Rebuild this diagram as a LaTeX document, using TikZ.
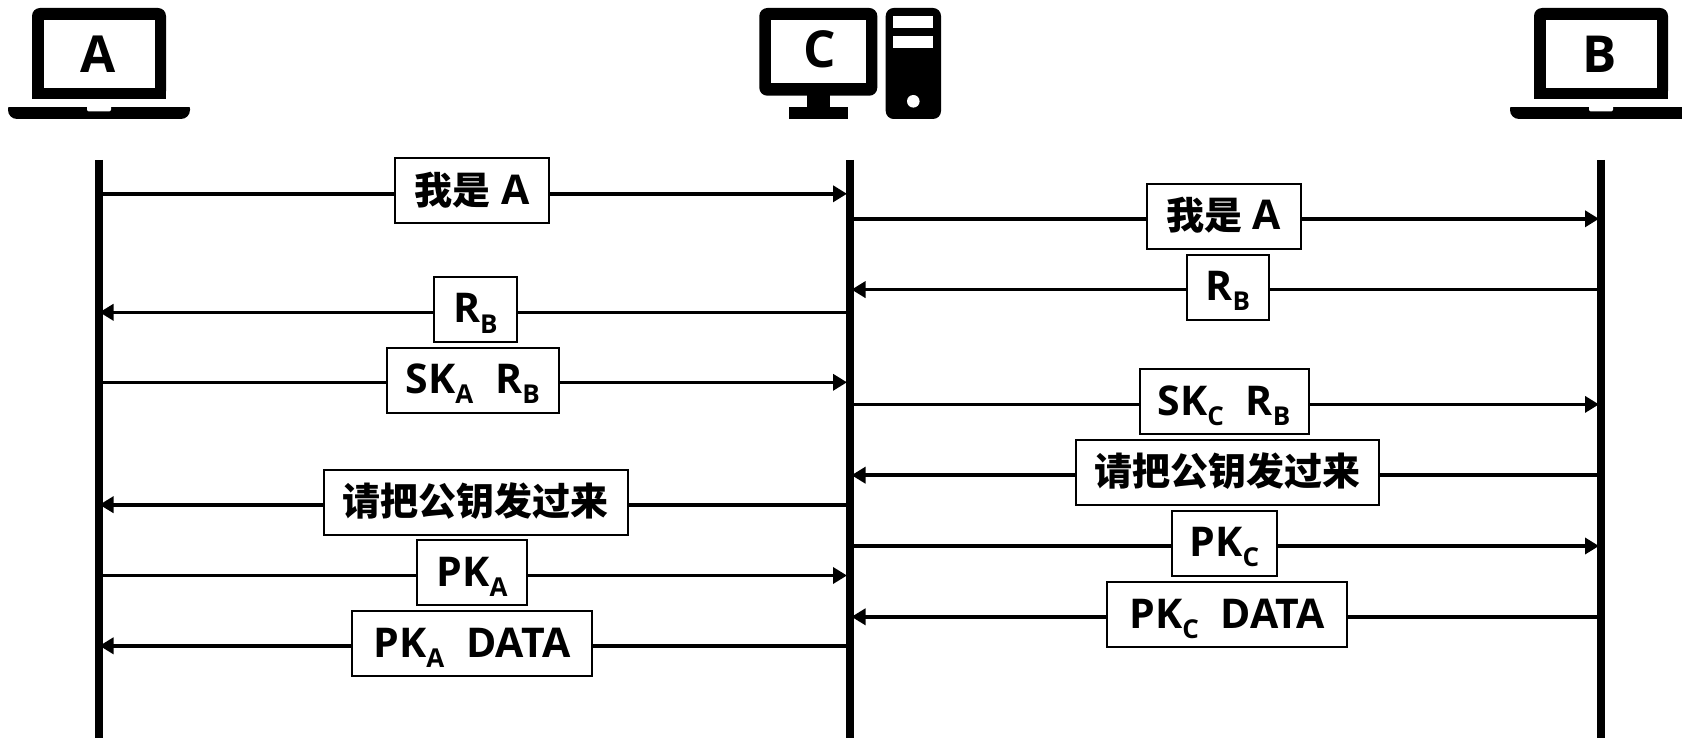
\documentclass[tikz,border=0pt]{standalone}
\usepackage{fontspec}
\setmainfont{Open Sans}
\newfontfamily\cjkraw{Noto Sans CJK SC}
\newcommand\cjk{\fontsize{38}{38}\selectfont\cjkraw\bfseries}
\usetikzlibrary{arrows.meta}
\newcommand\sbs[1]{\raisebox{-10pt}{\fontsize{26}{26}\selectfont #1}}
\newcommand\gapp{\hspace{22pt}}
\tikzset{
  msgbox/.style={draw=black,fill=white,line width=2pt,inner sep=0pt,outer sep=0pt,
    text height=46pt,text depth=19pt,align=center,
    font=\fontsize{41}{41}\selectfont\bfseries},
  msg/.style={line width=3.6pt,-{Triangle[length=14pt,width=16pt]}},
  life/.style={line width=8pt},
  iconlabel/.style={inner sep=0pt,anchor=base,font=\fontsize{51}{51}\selectfont\bfseries},
}
\newcommand\laptop[1]{%
  \begin{scope}[xshift=#1pt]
    \fill[black,rounded corners=8pt] (32,8) rectangle (166,99);
    \fill[black] (32,50) rectangle (166,99);
    \fill[white] (43.7,20) rectangle (155,88);
    \fill[black,rounded corners=9pt] (8,100) rectangle (190,119);
    \fill[white] (8,99) rectangle (190,107);
    \fill[black] (32,98) rectangle (166,99);
    \fill[white,rounded corners=2pt] (87,105) -- (87,111.5) -- (111,111.5) -- (111,105) [sharp corners] -- cycle;
  \end{scope}}
\begin{document}
\begin{tikzpicture}[x=1pt,y=-1pt]
\clip (0,0) rectangle (1682,738);
\fill[white] (0,0) rectangle (1682,738);
% lifelines
\coordinate (at) at (99,160); \coordinate (ab) at (99,738);
\coordinate (ct) at (850,160);  \coordinate (cb) at (850,738);
\coordinate (bt) at (1600.5,160); \coordinate (bb) at (1600.5,738);
\draw[life] (at) -- (ab);
\draw[life] (ct) -- (cb);
\draw[life] (bt) -- (bb);
% icons
\laptop{0}
\laptop{1502}
\node[iconlabel] (lA) at (98.3,72.7) {A};
\node[iconlabel] (lB) at (1600,72.7) {B};
\fill[black,rounded corners=8pt] (759.3,8) rectangle (877.3,95.7);
\fill[white] (771,20) rectangle (866,83.3);
\fill[black] (806.7,95) rectangle (830,108);
\fill[black] (788.7,107.3) rectangle (848,119);
\node[iconlabel] (lC) at (820,68) {C};
\fill[black,rounded corners=8pt] (885.7,8) rectangle (941,119);
\fill[white] (893.3,16.3) rectangle (933.3,28.3);
\fill[white] (893.3,36) rectangle (933.3,48.3);
\fill[white] (913.3,101.3) circle (6.3);
% left side
\coordinate (a1) at (95,193.8);  \coordinate (c1) at (847,193.8);
\coordinate (c2) at (846,312.3); \coordinate (a2) at (99.5,312.3);
\coordinate (a3) at (95,382.3);  \coordinate (c3) at (847,382.3);
\coordinate (c4) at (846,504.7); \coordinate (a4) at (99.5,504.7);
\coordinate (a5) at (95,575.5);  \coordinate (c5) at (847,575.5);
\coordinate (c6) at (846,645.8); \coordinate (a6) at (99.5,645.8);
\draw[msg] (a1) -- (c1);
\draw[msg] (c2) -- (a2);
\draw[msg] (a3) -- (c3);
\draw[msg] (c4) -- (a4);
\draw[msg] (a5) -- (c5);
\draw[msg] (c6) -- (a6);
\node[msgbox,minimum width=154.6pt,minimum height=65pt] (m1) at (472,190.8) {{\cjk 我是} A};
\node[msgbox,minimum width=83.3pt,minimum height=65pt] (m2) at (475.3,309.5) {R\sbs{B}};
\node[msgbox,minimum width=172pt,minimum height=65pt] (m3) at (472.8,380) {SK\sbs{A}\gapp R\sbs{B}};
\node[msgbox,minimum width=303.5pt,minimum height=65pt] (m4) at (475.8,502) {\cjk 请把公钥发过来};
\node[msgbox,minimum width=109.4pt,minimum height=65pt] (m5) at (472,572.5) {PK\sbs{A}};
\node[msgbox,minimum width=240.2pt,minimum height=65pt] (m6) at (471.9,643.5) {PK\sbs{A}\gapp DATA};
% right side
\coordinate (c7) at (854,218.8);  \coordinate (b7) at (1599,218.8);
\coordinate (b8) at (1597,289.6); \coordinate (c8) at (851.5,289.6);
\coordinate (c9) at (854,404.4);  \coordinate (b9) at (1599,404.4);
\coordinate (b10) at (1597,475.2); \coordinate (c10) at (851.5,475.2);
\coordinate (c11) at (854,546);   \coordinate (b11) at (1599,546);
\coordinate (b12) at (1597,616.8); \coordinate (c12) at (851.5,616.8);
\draw[msg] (c7) -- (b7);
\draw[msg] (b8) -- (c8);
\draw[msg] (c9) -- (b9);
\draw[msg] (b10) -- (c10);
\draw[msg] (c11) -- (b11);
\draw[msg] (b12) -- (c12);
\node[msgbox,minimum width=154.3pt,minimum height=65pt] (m7) at (1223.8,216.2) {{\cjk 我是} A};
\node[msgbox,minimum width=82pt,minimum height=65pt] (m8) at (1227.7,287.4) {R\sbs{B}};
\node[msgbox,minimum width=169pt,minimum height=65pt] (m9) at (1224,401.7) {SK\sbs{C}\gapp R\sbs{B}};
\node[msgbox,minimum width=303pt,minimum height=65pt] (m10) at (1227.8,472.3) {\cjk 请把公钥发过来};
\node[msgbox,minimum width=105.6pt,minimum height=65pt] (m11) at (1224.5,543.3) {PK\sbs{C}};
\node[msgbox,minimum width=240.3pt,minimum height=65pt] (m12) at (1227.2,614.6) {PK\sbs{C}\gapp DATA};
\end{tikzpicture}
\end{document}
